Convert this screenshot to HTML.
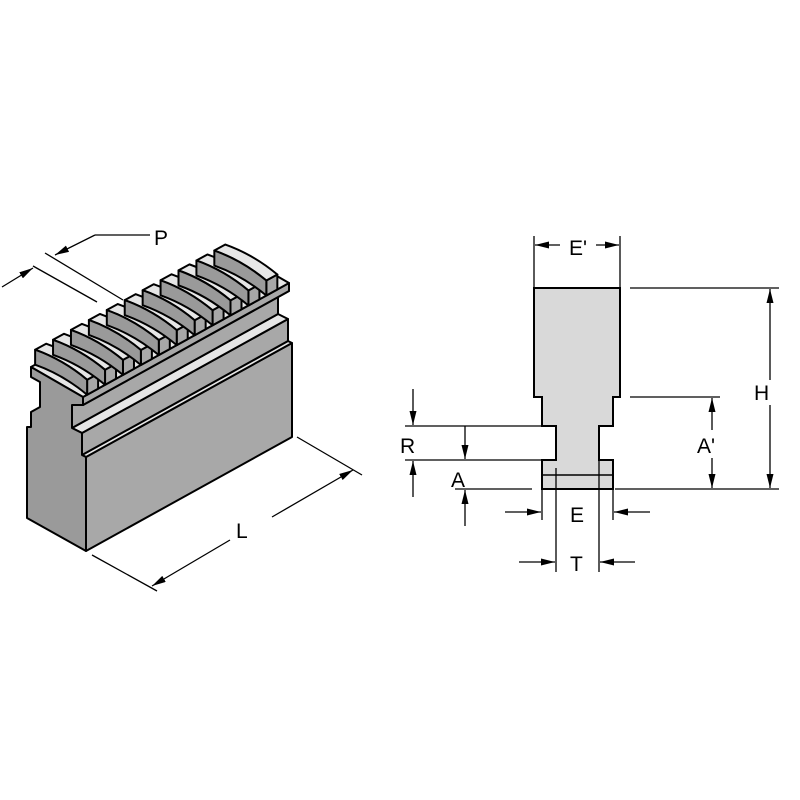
<!DOCTYPE html>
<html><head><meta charset="utf-8"><style>
html,body{margin:0;padding:0;background:#fff;width:800px;height:800px;overflow:hidden}
svg{display:block}
text{font-family:"Liberation Sans",sans-serif;font-size:21px;fill:#000}
</style></head><body>
<svg id="s" width="800" height="800" viewBox="0 0 800 800" xmlns="http://www.w3.org/2000/svg">
<defs>
<marker id="ar" viewBox="0 0 14 7" refX="14" refY="3.5" markerWidth="14" markerHeight="7" orient="auto" markerUnits="userSpaceOnUse"><path d="M0,0 L14,3.5 L0,7 z" fill="#000"/></marker>
</defs>
<g id="iso" stroke="#000" stroke-width="2" stroke-linejoin="round"></g>

<g stroke="#000" stroke-width="1.3" fill="none">
<line x1="45" y1="253" x2="123" y2="300"/>
<line x1="33" y1="266" x2="97" y2="302"/>
<line x1="2" y1="287" x2="33" y2="268" marker-end="url(#ar)"/>
<polyline points="95,235 55,255" marker-end="url(#ar)"/>
<line x1="95" y1="235" x2="150" y2="235"/>
<line x1="297" y1="437" x2="362" y2="475"/>
<line x1="92" y1="555" x2="157" y2="591"/>
<line x1="272" y1="517" x2="353" y2="470" marker-end="url(#ar)"/>
<line x1="230" y1="540" x2="152" y2="586" marker-end="url(#ar)"/>
</g>
<text x="154" y="245">P</text>
<text x="236" y="538">L</text>

<path d="M534,288 H620 V397 H613 V426 H599 V460 H613 V489 H542 V460 H556 V426 H542 V397 H534 Z" fill="#d9d9d9" stroke="#000" stroke-width="2"/>
<line x1="542" y1="475" x2="613" y2="475" stroke="#000" stroke-width="1.5"/>
<g stroke="#000" stroke-width="1.3" fill="none">
<line x1="534" y1="236" x2="534" y2="288"/><line x1="620" y1="236" x2="620" y2="288"/>
<line x1="560" y1="245" x2="535" y2="245" marker-end="url(#ar)"/>
<line x1="596" y1="245" x2="619" y2="245" marker-end="url(#ar)"/>
<line x1="630" y1="288" x2="779" y2="288"/><line x1="615" y1="489" x2="779" y2="489"/>
<line x1="770" y1="380" x2="770" y2="289" marker-end="url(#ar)"/>
<line x1="770" y1="405" x2="770" y2="488" marker-end="url(#ar)"/>
<line x1="630" y1="397" x2="720" y2="397"/>
<line x1="712" y1="430" x2="712" y2="398" marker-end="url(#ar)"/>
<line x1="712" y1="458" x2="712" y2="488" marker-end="url(#ar)"/>
<line x1="405" y1="426" x2="556" y2="426"/><line x1="405" y1="460" x2="542" y2="460"/>
<line x1="413" y1="389" x2="413" y2="425" marker-end="url(#ar)"/>
<line x1="413" y1="497" x2="413" y2="461" marker-end="url(#ar)"/>
<line x1="465" y1="426" x2="465" y2="459" marker-end="url(#ar)"/>
<line x1="465" y1="526" x2="465" y2="490" marker-end="url(#ar)"/>
<line x1="455" y1="489" x2="532" y2="489"/>
<line x1="542" y1="489" x2="542" y2="520"/><line x1="613" y1="489" x2="613" y2="520"/>
<line x1="505" y1="512" x2="541" y2="512" marker-end="url(#ar)"/>
<line x1="650" y1="512" x2="614" y2="512" marker-end="url(#ar)"/>
<line x1="556" y1="468" x2="556" y2="572"/><line x1="599" y1="460" x2="599" y2="572"/>
<line x1="519" y1="562" x2="555" y2="562" marker-end="url(#ar)"/>
<line x1="635" y1="562" x2="600" y2="562" marker-end="url(#ar)"/>
</g>
<text x="569" y="255">E'</text>
<text x="754" y="400">H</text>
<text x="697" y="453">A'</text>
<text x="400" y="453">R</text>
<text x="451" y="487">A</text>
<text x="570" y="522">E</text>
<text x="570" y="571">T</text>
</svg>
<script>
(function(){
var g=document.getElementById('iso');
var D=[206,-114];
function P(pts,fill){var e=document.createElementNS('http://www.w3.org/2000/svg','polygon');
e.setAttribute('points',pts.map(function(p){return p[0]+','+p[1]}).join(' '));e.setAttribute('fill',fill);g.appendChild(e);}
function Pa(d,fill){var e=document.createElementNS('http://www.w3.org/2000/svg','path');e.setAttribute('d',d);e.setAttribute('fill',fill);g.appendChild(e);}
function add(p,t){return [p[0]+D[0]*t,p[1]+D[1]*t];}
function ext(a,b,fill){P([a,b,add(b,1),add(a,1)],fill);}
var side='#a8a8a8',light='#e6e6e6',endc='#9a9a9a';
ext([86,551],[86,457],side);
ext([86,457],[82,455],light);
ext([82,455],[82,433],side);
ext([82,433],[72,428],light);
ext([72,428],[72,405],side);
ext([72,405],[83,405],'#c8c8c8');
ext([83,405],[83,397],side);
ext([31,367],[83,397],light);
var w=[11,-6],h=15;
for(var k=0;k<11;k++){
 var t=0.02+k*0.087;
 var A0=add([31,367],t),B0=add([83,397],t);
 var A=[A0[0],A0[1]-h],B=[B0[0],B0[1]-h];
 var M=[(A[0]+B[0])/2+2,(A[1]+B[1])/2-5];
 var M0=[(A0[0]+B0[0])/2+2,(A0[1]+B0[1])/2-5];
 P([B,[B[0]+w[0],B[1]+w[1]],[B0[0]+w[0],B0[1]+w[1]],B0],side);
 Pa('M'+A+' Q'+M+' '+B+' L'+(B[0]+w[0])+','+(B[1]+w[1])+' Q'+(M[0]+w[0])+','+(M[1]+w[1])+' '+(A[0]+w[0])+','+(A[1]+w[1])+' Z',light);
 Pa('M'+A+' Q'+M+' '+B+' L'+B0+' Q'+M0+' '+A0+' Z',endc);
}
P([[27,518],[86,551],[86,457],[82,455],[82,433],[72,428],[72,405],[83,405],[83,397],[31,367],[31,377],[40,382],[40,407],[31,412],[31,427],[27,427]],endc);
})();
</script>
</body></html>
